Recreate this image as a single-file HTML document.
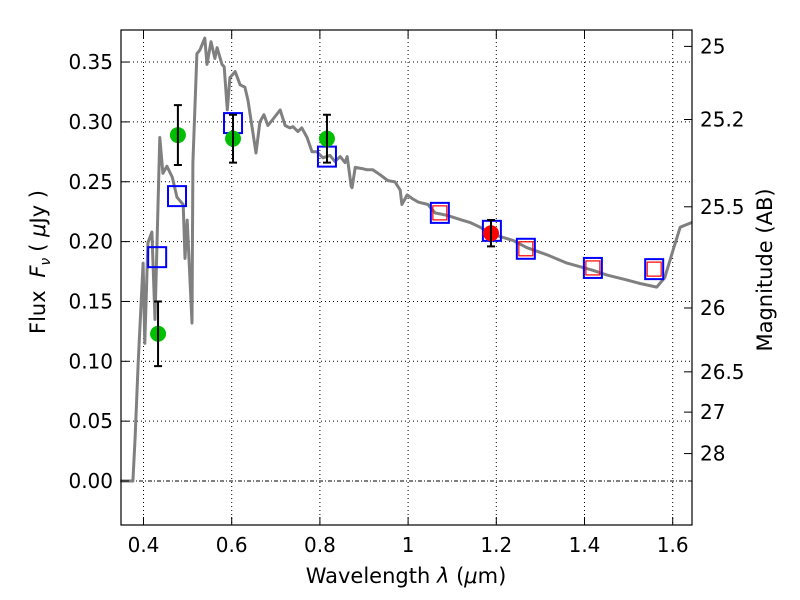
<!DOCTYPE html>
<html><head><meta charset="utf-8"><style>
body{margin:0;background:#fff}
svg{display:block;font-family:"DejaVu Sans","Liberation Sans",sans-serif}
</style></head><body>
<svg id="chart" width="800" height="600" viewBox="0 0 800 600">
<rect width="800" height="600" fill="#fff"/>
<g id="grid"></g>
<g id="spec"></g>
<g id="marks"></g>
<rect x="121" y="30" width="571" height="495" fill="none" stroke="#000" stroke-width="1.2"/>
<g id="axes"></g>
<text x="406" y="583" font-size="21" text-anchor="middle">Wavelength  <tspan font-style="italic">λ</tspan> (<tspan font-style="italic">μ</tspan>m)</text>
<text transform="translate(45,262) rotate(-90)" font-size="21" text-anchor="middle">Flux  <tspan font-style="italic" dx="6">F</tspan><tspan font-style="italic" font-size="14" dy="5">ν</tspan><tspan dy="-5" dx="6">( </tspan><tspan font-style="italic">μ</tspan>Jy )</text>
<text transform="translate(772,270) rotate(-90)" font-size="21" text-anchor="middle">Magnitude (AB)</text>
</svg>
<script>
const specLam=[0.347,0.376,0.381,0.388,0.399,0.403,0.410,0.419,0.426,0.437,0.444,0.453,0.465,0.476,0.490,0.494,0.499,0.510,0.512,0.521,0.528,0.539,0.544,0.553,0.562,0.567,0.578,0.583,0.590,0.596,0.608,0.619,0.630,0.637,0.646,0.655,0.664,0.673,0.682,0.693,0.710,0.721,0.732,0.739,0.750,0.759,0.771,0.782,0.793,0.807,0.823,0.834,0.846,0.857,0.862,0.871,0.873,0.880,0.896,0.907,0.920,0.936,0.954,0.970,0.982,0.986,0.998,1.009,1.023,1.045,1.061,1.088,1.122,1.140,1.163,1.192,1.238,1.269,1.315,1.360,1.419,1.451,1.496,1.526,1.564,1.582,1.601,1.617,1.644];
const specFlux=[0,0,0.036,0.099,0.182,0.115,0.199,0.208,0.135,0.287,0.257,0.263,0.254,0.237,0.231,0.186,0.218,0.132,0.266,0.357,0.360,0.370,0.348,0.367,0.353,0.362,0.348,0.346,0.310,0.337,0.342,0.331,0.329,0.318,0.296,0.274,0.300,0.306,0.297,0.302,0.310,0.297,0.295,0.296,0.292,0.295,0.287,0.275,0.275,0.270,0.272,0.267,0.271,0.266,0.271,0.246,0.245,0.262,0.261,0.260,0.260,0.256,0.251,0.250,0.243,0.231,0.239,0.236,0.233,0.231,0.224,0.222,0.218,0.216,0.212,0.206,0.201,0.195,0.189,0.182,0.176,0.172,0.168,0.165,0.162,0.170,0.193,0.212,0.216];
const greenLam=[0.433,0.478,0.603,0.816];
const greenFlux=[0.123,0.289,0.286,0.286];
const greenErr=[0.027,0.025,0.020,0.020];
const redLam=[1.188];
const redFlux=[0.207];
const redErr=[0.011];
const blueLam=[0.431,0.476,0.603,0.816,1.072,1.190,1.267,1.419,1.558];
const blueFlux=[0.187,0.238,0.299,0.271,0.224,0.209,0.194,0.178,0.177];
const redSqLam=[1.072,1.267,1.419,1.558];
const redSqFlux=[0.224,0.194,0.178,0.177];
const xTicks=[0.4,0.6,0.8,1.0,1.2,1.4,1.6];
const xTickLabels=["0.4","0.6","0.8","1","1.2","1.4","1.6"];
const yTicks=[0,0.05,0.1,0.15,0.2,0.25,0.3,0.35];
const yTickLabels=["0.00","0.05","0.10","0.15","0.20","0.25","0.30","0.35"];
const magTicks=[25,25.2,25.5,26,26.5,27,28];
const magTickLabels=["25","25.2","25.5","26","26.5","27","28"];

const NS="http://www.w3.org/2000/svg";
const X=l=>143.5+(l-0.4)*441;
const Y=f=>481-f*1197;
function mk(tag,attrs,parent){const e=document.createElementNS(NS,tag);for(const k in attrs)e.setAttribute(k,attrs[k]);parent.appendChild(e);return e;}
const grid=document.getElementById('grid'),axes=document.getElementById('axes'),spec=document.getElementById('spec'),marks=document.getElementById('marks');

xTicks.forEach((t,i)=>{
  const x=X(t);
  const g=mk('line',{x1:x,x2:x,y1:30,y2:525,stroke:'#000','stroke-width':1,'stroke-dasharray':'1,3'},grid);
  
  
  const tk=mk('line',{x1:x,x2:x,y1:525,y2:517,stroke:'#000','stroke-width':1},axes);
  
  
  const tk2=mk('line',{x1:x,x2:x,y1:30,y2:38,stroke:'#000','stroke-width':1},axes);
  
  
  const lb=mk('text',{x:x,y:552,'font-size':20,'text-anchor':'middle'},axes);
  lb.textContent=xTickLabels[i];
  
  
});
yTicks.forEach((t,i)=>{
  const y=Y(t);
  const g=mk('line',{x1:121,x2:692,y1:y,y2:y,stroke:'#000','stroke-width':1,'stroke-dasharray':t===0?'4,2,1,2':'1,3'},grid);
  
  
  const tk=mk('line',{x1:121,x2:129,y1:y,y2:y,stroke:'#000','stroke-width':1},axes);
  
  
  const lb=mk('text',{x:113,y:y+7,'font-size':20,'text-anchor':'end'},axes);
  lb.textContent=yTickLabels[i];
  
  
});
magTicks.forEach((m,i)=>{
  const y=Y(Math.pow(10,(23.9-m)/2.5));
  const tk=mk('line',{x1:684,x2:692,y1:y,y2:y,stroke:'#000','stroke-width':1},axes);
  
  
  const lb=mk('text',{x:700,y:y+7,'font-size':20,'text-anchor':'start'},axes);
  lb.textContent=magTickLabels[i];
  
  
});

const pts=specLam.map((l,i)=>X(l).toFixed(1)+','+Y(specFlux[i]).toFixed(1)).join(' ');
const pl=mk('polyline',{points:pts,fill:'none',stroke:'#808080','stroke-width':3,'stroke-linejoin':'round'},spec);



blueLam.forEach((l,i)=>{
  const r=mk('rect',{x:X(l)-9,y:Y(blueFlux[i])-10,width:18,height:20,fill:'none',stroke:'#0000ff','stroke-width':2},marks);
  
  
});
redSqLam.forEach((l,i)=>{
  const r=mk('rect',{x:X(l)-7,y:Y(redSqFlux[i])-7,width:14,height:14,fill:'none',stroke:'#ff0000','stroke-width':1.2},marks);
  
  
});
function pointsWithErr(lams,fl,er,col,name){
  lams.forEach((l,i)=>{
    const x=X(l),y=Y(fl[i]),y1=Y(fl[i]+er[i]),y2=Y(fl[i]-er[i]);
    const c=mk('circle',{cx:x,cy:y,r:8,fill:col},marks);
    
    
    const eb=mk('path',{d:`M${x},${y1}V${y2}M${x-4},${y1}H${x+4}M${x-4},${y2}H${x+4}`,stroke:'#000','stroke-width':2,fill:'none'},marks);
    
    
  });
}
pointsWithErr(greenLam,greenFlux,greenErr,'#00bf00','green-point');
pointsWithErr(redLam,redFlux,redErr,'#ff0000','red-point');
</script>
</body></html>
